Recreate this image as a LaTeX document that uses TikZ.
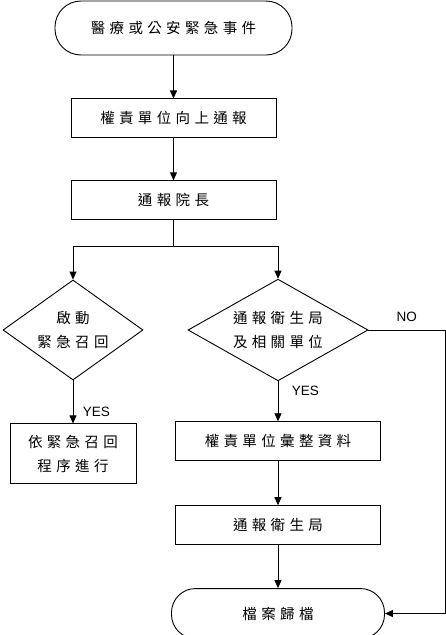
\documentclass[tikz,border=0pt]{standalone}
\usepackage{fontspec}
\setmainfont{Noto Sans CJK TC}[LetterSpace=30]
\newfontfamily\latinfont{Liberation Sans}
\usetikzlibrary{arrows.meta, positioning, shapes.geometric}

\begin{document}
\begin{tikzpicture}[
  x=1pt, y=-1pt,
  every node/.style={font=\fontsize{14.5pt}{24pt}\selectfont, align=center},
  term/.style={draw, rounded corners=26pt, minimum width=237pt, minimum height=54pt},
  proc/.style={draw, minimum width=205pt, minimum height=39pt},
  decision/.style={draw, diamond, inner sep=0pt, aspect=1.4, minimum width=140pt, minimum height=100pt},
  tag/.style={font=\latinfont\fontsize{13.5pt}{16pt}\selectfont},
  arr/.style={-{Triangle[length=8pt, width=7pt]}},
  line width=0.9pt
]
\useasboundingbox (0,0) rectangle (446,635);

% Top row
\node[term] (start) at (173.5,28) {醫療或公安緊急事件};
\node[proc, below=43pt of start] (notify) {權責單位向上通報};
\node[proc, below=42pt of notify] (dean) {通報院長};

\draw[arr] (start) -- (notify);
\draw[arr] (notify) -- (dean);

% Branch
\coordinate[below=26pt of dean] (split);
\node[decision] (recall) at (73,330) {啟動\\緊急召回};
\node[decision, minimum width=180pt] (report) at (278,330) {通報衛生局\\及相關單位};

\draw (dean) -- (split);
\draw[arr] (split) -| (recall.north);
\draw[arr] (split) -| (report.north);

% Left column
\node[proc, below=43pt of recall, minimum width=126pt, minimum height=60pt] (procedure) {依緊急召回\\程序進行};
\draw[arr] (recall) -- node[tag, pos=0.72, right=6pt] {YES} (procedure);

% Right column
\node[proc, below=40pt of report] (collect) {權責單位彙整資料};
\node[proc, below=44pt of collect] (health) {通報衛生局};
\node[term, below=43pt of health, minimum width=213pt, minimum height=50pt, rounded corners=24pt] (archive) {檔案歸檔};

\draw[arr] (report) -- node[tag, pos=0.25, right=10pt] {YES} (collect);
\draw[arr] (collect) -- (health);
\draw[arr] (health) -- (archive);

% NO path
\coordinate (noturn) at (445,330);
\draw[arr] (report.east) -- node[tag, above=5pt] {NO} (noturn) |- (archive.east);
\end{tikzpicture}
\end{document}
